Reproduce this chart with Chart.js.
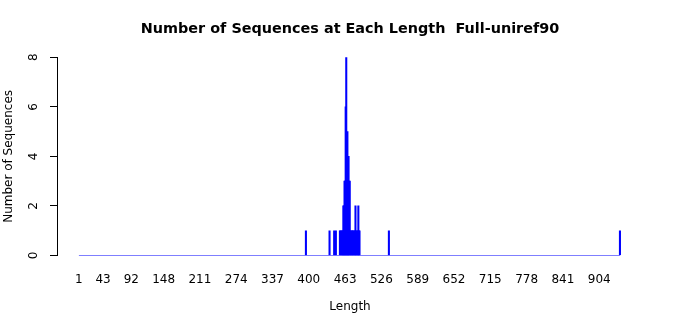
<!DOCTYPE html>
<html>
<head>
<meta charset="utf-8">
<script src="https://cdn.jsdelivr.net/npm/chart.js@4/dist/chart.umd.min.js"></script>
<style>
  body { margin: 0; background: #fff; }
  canvas { display: block; }
</style>
</head>
<body>
<canvas id="lengthChart" width="700" height="315"></canvas>
<script>
// sequence lengths that have at least one sequence, and how many
const lengths = [395, 436, 444, 447,
    454, 455, 457, 458, 459, 460, 461, 462, 463, 464, 465, 466, 467, 468, 469, 470, 471,
    472, 473, 475, 476, 477, 479, 480, 481, 482, 484, 485, 486, 487, 488,
    539, 940];
const counts = [1, 1, 1, 1,
    1, 1, 1, 1, 1, 2, 2, 3, 3, 6, 8, 3, 5, 3, 4, 3, 3,
    1, 1, 1, 1, 1, 1, 1, 2, 1, 1, 1, 2, 1, 1,
    1, 1];
// every length from first to last is a bar (most are empty)
const lengthRange = [1, 940];
const xTickLabels = [1, 43, 92, 148, 211, 274, 337, 400, 463, 526, 589, 652, 715, 778, 841, 904];
const yTicks = [0, 2, 4, 6, 8];

const font = "'DejaVu Sans', sans-serif";

const rotatedYLabels = {
    id: "rotatedYLabels",
    afterDraw(chart) {
        const ctx = chart.ctx, y = chart.scales.y;
        ctx.save();
        ctx.fillStyle = "#000";
        ctx.font = "12px " + font;
        ctx.textAlign = "center";
        ctx.textBaseline = "middle";
        yTicks.forEach(function (v) {
            ctx.save();
            ctx.translate(chart.chartArea.left - 23, y.getPixelForValue(v));
            ctx.rotate(-Math.PI / 2);
            ctx.fillText(String(v), 0, 0);
            ctx.restore();
        });
        ctx.restore();
    }
};

new Chart(document.getElementById("lengthChart"), {
    type: "bar",
    data: {
        datasets: [
            {
                data: lengths.map((l, i) => ({ x: l, y: counts[i] })),
                backgroundColor: "#0000ff",
                borderWidth: 0,
                barThickness: 1.4
            },
            {
                type: "line",
                data: lengthRange.map((l) => ({ x: l, y: 0 })),
                borderColor: "#0000ff",
                borderWidth: 1,
                pointRadius: 0
            }
        ]
    },
    options: {
        responsive: false,
        animation: false,
        devicePixelRatio: 1,
        layout: { padding: 0 },
        plugins: {
            legend: { display: false },
            tooltip: { enabled: false },
            title: {
                display: true,
                text: "Number of Sequences at Each Length  Full-uniref90",
                color: "#000",
                font: { family: font, size: 14.4, weight: "bold" },
                padding: { top: 21, bottom: 19 }
            }
        },
        scales: {
            x: {
                type: "linear",
                offset: false,
                min: -37,
                max: 980,
                afterFit(scale) { scale.height = 59.5; },
                afterBuildTicks(scale) {
                    scale.ticks = xTickLabels.map((v) => ({ value: v }));
                },
                grid: { display: false },
                border: { display: false },
                ticks: {
                    autoSkip: false,
                    maxRotation: 0,
                    padding: 9,
                    color: "#000",
                    font: { family: font, size: 12 },
                    callback: (v) => String(v)
                },
                title: {
                    display: true,
                    text: "Length",
                    color: "#000",
                    font: { family: font, size: 12 },
                    padding: { top: 0, bottom: 0.5 }
                }
            },
            y: {
                min: 0,
                max: 8,
                afterFit(scale) { scale.width = 57; },
                afterBuildTicks(scale) {
                    scale.ticks = yTicks.map((v) => ({ value: v }));
                },
                grid: {
                    drawOnChartArea: false,
                    drawTicks: true,
                    tickLength: 7,
                    color: "#000"
                },
                border: { display: true, color: "#000", width: 1 },
                ticks: { display: false },
                title: {
                    display: true,
                    text: "Number of Sequences",
                    color: "#000",
                    font: { family: font, size: 12 },
                    padding: { top: 2, bottom: 0 }
                }
            },
            // empty right margin so the title centres over the plot
            yRight: {
                type: "linear",
                position: "right",
                afterFit(scale) { scale.width = 57; },
                grid: { display: false },
                border: { display: false },
                ticks: { display: false }
            }
        }
    },
    plugins: [rotatedYLabels]
});
</script>
</body>
</html>
